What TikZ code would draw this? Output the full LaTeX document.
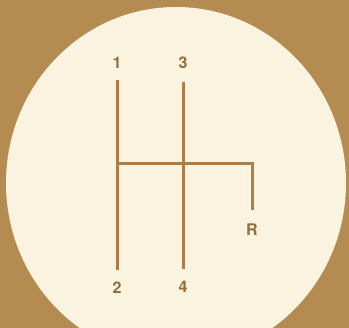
\documentclass[tikz,border=0pt]{standalone}
\usepackage{fontspec}
\setmainfont{TeX Gyre Heros}
\definecolor{bgbrown}{RGB}{180,140,82}
\definecolor{cream}{RGB}{250,243,224}
\definecolor{gate}{RGB}{172,126,70}
\definecolor{gatetext}{RGB}{150,108,58}
\tikzset{
  slot/.style={draw=gate, line width=3pt, line cap=butt},
  gear/.style={text=gatetext, font=\fontsize{16}{16}\selectfont\bfseries, inner sep=0pt}
}
\begin{document}
\begin{tikzpicture}[x=1pt, y=-1pt]
    \useasboundingbox (0,0) rectangle (349,328);
    \fill[bgbrown] (0,0) rectangle (349,328);
    \fill[cream] (176,183) ellipse [x radius=170, y radius=176];

    % gear labels
    \node[gear] (g1) at (117,63) {1};
    \node[gear] (g3) at (183,63) {3};
    \node[gear] (g2) at (117,288) {2};
    \node[gear] (g4) at (183,287) {4};
    \node[gear] (gR) at (252,230) {R};

    % gate ends
    \coordinate (t1) at (117,80);
    \coordinate (b2) at (117,270);
    \coordinate (t3) at (183,82);
    \coordinate (b4) at (183,269);
    \coordinate (hl) at (117,164);
    \coordinate (hr) at (252,164);
    \coordinate (br) at (252,210);

    \draw[slot] (t1) -- (b2);
    \draw[slot] (t3) -- (b4);
    \draw[slot] (hl) -- (hr) -- (br);
\end{tikzpicture}
\end{document}
